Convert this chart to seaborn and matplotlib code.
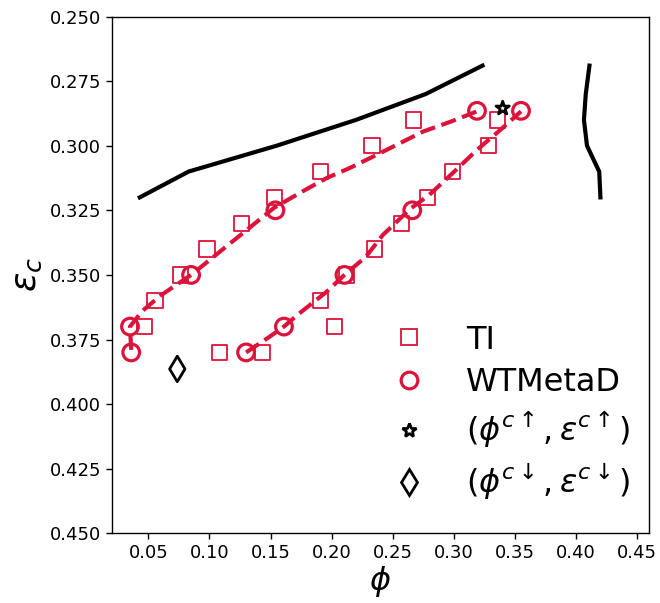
import matplotlib
matplotlib.use("Agg")
import matplotlib.pyplot as plt
from matplotlib.lines import Line2D
import seaborn as sns

# ---- data ----
ti_phi = [0.047, 0.0555, 0.0765, 0.098, 0.126, 0.153, 0.191, 0.233, 0.267,
          0.1085, 0.1434, 0.2024, 0.1907, 0.212, 0.235, 0.2573, 0.2786, 0.299, 0.3284, 0.3357]
ti_eps = [0.37, 0.36, 0.35, 0.34, 0.33, 0.32, 0.31, 0.30, 0.29,
          0.38, 0.38, 0.37, 0.36, 0.35, 0.34, 0.33, 0.32, 0.31, 0.30, 0.29]

wt_phi = [0.036, 0.035, 0.085, 0.154, 0.319, 0.130, 0.161, 0.2105, 0.266, 0.355]
wt_eps = [0.380, 0.370, 0.350, 0.325, 0.2865, 0.380, 0.370, 0.350, 0.325, 0.2865]

fit_up_phi = [0.036, 0.035, 0.045, 0.060, 0.085, 0.100, 0.114, 0.128, 0.153, 0.175,
              0.196, 0.215, 0.237, 0.256, 0.275, 0.298, 0.319]
fit_up_eps = [0.379, 0.370, 0.364, 0.358, 0.350, 0.3443, 0.3389, 0.3336, 0.324, 0.318,
              0.3125, 0.3086, 0.3035, 0.299, 0.2945, 0.2906, 0.2867]

fit_lo_phi = [0.130, 0.149, 0.161, 0.172, 0.196, 0.2105, 0.228, 0.242, 0.265, 0.280,
              0.302, 0.319, 0.340, 0.355]
fit_lo_eps = [0.380, 0.374, 0.370, 0.3655, 0.3565, 0.350, 0.343, 0.3345, 0.3242, 0.319,
              0.3093, 0.3016, 0.2931, 0.2867]

bnd_left_phi = [0.043, 0.083, 0.155, 0.220, 0.277, 0.3235]
bnd_left_eps = [0.320, 0.310, 0.300, 0.290, 0.280, 0.269]

bnd_right_phi = [0.420, 0.419, 0.409, 0.4065, 0.408, 0.411]
bnd_right_eps = [0.320, 0.310, 0.300, 0.290, 0.280, 0.269]

crit_up_phi = [0.340]
crit_up_eps = [0.2855]
crit_dn_phi = [0.0737]
crit_dn_eps = [0.3864]

labels = ["TI", "WTMetaD", r"$(\phi^{c\uparrow},\epsilon^{c\uparrow})$",
          r"$(\phi^{c\downarrow},\epsilon^{c\downarrow})$"]

xticks = [0.05, 0.10, 0.15, 0.20, 0.25, 0.30, 0.35, 0.40, 0.45]
yticks = [0.250, 0.275, 0.300, 0.325, 0.350, 0.375, 0.400, 0.425, 0.450]

RED = "#DC143C"

plt.rcParams["font.family"] = ["DejaVu Sans"]

fig = plt.figure(figsize=(6.6, 6.03), dpi=100)
ax = fig.add_axes([0.1692, 0.1156, 0.8146, 0.857])

# black boundary lines
sns.lineplot(x=bnd_left_phi, y=bnd_left_eps, sort=False, estimator=None,
             color="black", linewidth=3, ax=ax)
sns.lineplot(x=bnd_right_phi, y=bnd_right_eps, sort=False, estimator=None,
             color="black", linewidth=3, ax=ax)

# TI squares
sns.scatterplot(x=ti_phi, y=ti_eps, marker="s", s=11**2, facecolor="none",
                edgecolor=RED, linewidth=1.3, ax=ax, zorder=3)

# dashed fits
sns.lineplot(x=fit_up_phi, y=fit_up_eps, sort=False, estimator=None,
             color=RED, linewidth=3, linestyle="--", ax=ax, zorder=4)
sns.lineplot(x=fit_lo_phi, y=fit_lo_eps, sort=False, estimator=None,
             color=RED, linewidth=3, linestyle="--", ax=ax, zorder=4)

# WTMetaD circles
sns.scatterplot(x=wt_phi, y=wt_eps, marker="o", s=12**2, facecolor="none",
                edgecolor=RED, linewidth=2.3, ax=ax, zorder=5)

# critical points
sns.scatterplot(x=crit_up_phi, y=crit_up_eps, marker="*", s=10**2, facecolor="none",
                edgecolor="black", linewidth=2, ax=ax, zorder=6)
sns.scatterplot(x=crit_dn_phi, y=crit_dn_eps, marker="d", s=13**2, facecolor="none",
                edgecolor="black", linewidth=2, ax=ax, zorder=6)

ax.set_xlim(0.02, 0.46)
ax.set_ylim(0.45, 0.25)
ax.set_xticks(xticks)
ax.set_yticks(yticks)
ax.set_xticklabels([f"{t:.2f}" for t in xticks])
ax.set_yticklabels([f"{t:.3f}" for t in yticks])
ax.tick_params(labelsize=13, width=1, length=4, colors="black")
for sp in ax.spines.values():
    sp.set_linewidth(1)
    sp.set_color("black")
ax.set_xlabel(r"$\phi$", fontsize=23, labelpad=2, color="black")
ax.set_ylabel(r"$\epsilon_c$", fontsize=26, color="black")

handles = [
    Line2D([], [], marker="s", markersize=11, markerfacecolor="none",
           markeredgecolor=RED, markeredgewidth=1.3, linestyle=""),
    Line2D([], [], marker="o", markersize=12, markerfacecolor="none",
           markeredgecolor=RED, markeredgewidth=2.3, linestyle=""),
    Line2D([], [], marker="*", markersize=10, markerfacecolor="none",
           markeredgecolor="black", markeredgewidth=2, linestyle=""),
    Line2D([], [], marker="d", markersize=13, markerfacecolor="none",
           markeredgecolor="black", markeredgewidth=2, linestyle=""),
]
leg = ax.legend(handles, labels, loc="lower right", frameon=False, fontsize=23,
                bbox_to_anchor=(1.018, 0.005), handletextpad=0.8, labelspacing=0.36)
for t in leg.get_texts():
    t.set_color("black")

fig.savefig("out.png", dpi=100)
